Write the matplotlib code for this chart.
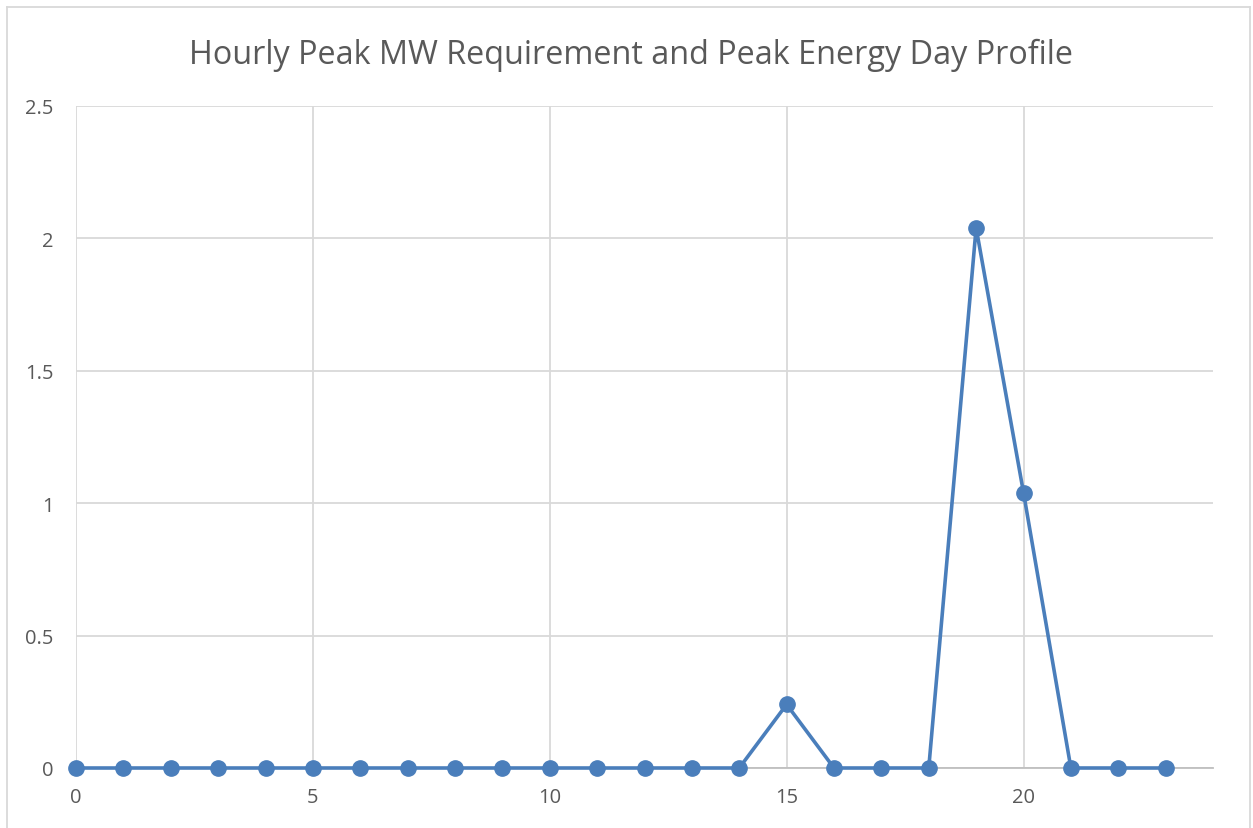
import matplotlib.pyplot as plt
from matplotlib.lines import Line2D

# Данные: часы и пиковая мощность (МВт)
hours = list(range(24))
peak_mw = [0, 0, 0, 0, 0, 0, 0, 0, 0, 0, 0, 0, 0, 0, 0,
           0.24, 0, 0, 0, 2.04, 1.04, 0, 0, 0]
x_ticks = [0, 5, 10, 15, 20]
y_ticks = [0, 0.5, 1, 1.5, 2, 2.5]
y_tick_labels = ["0", "0.5", "1", "1.5", "2", "2.5"]

plt.rcParams["font.family"] = ["Open Sans", "DejaVu Sans"]

W, H = 1253, 829
fig = plt.figure(figsize=(W / 100, H / 100), dpi=100)
ax = fig.add_axes([76 / W, 1 - 769 / H, (1213 - 76) / W, (769 - 107) / H])

ax.plot(hours, peak_mw, color="#4a7ebb", linewidth=2.6,
        marker="o", markersize=11, zorder=3, clip_on=False)

ax.set_xlim(0, 24)
ax.set_ylim(0, 2.5)
ax.set_xticks(x_ticks)
ax.set_yticks(y_ticks)
ax.set_yticklabels(y_tick_labels)
ax.grid(True, color="#d9d9d9", linewidth=1.3)
ax.set_axisbelow(True)
for s in ["top", "right", "left"]:
    ax.spines[s].set_visible(False)
ax.spines["bottom"].set_color("#bfbfbf")
ax.spines["bottom"].set_linewidth(1.3)
ax.tick_params(length=0, colors="#595959", labelsize=14.5)
ax.tick_params(axis="y", pad=16)
ax.tick_params(axis="x", pad=14)

fig.text(631 / W, 1 - 55 / H, "Hourly Peak MW Requirement and Peak Energy Day Profile",
         ha="center", va="center", fontsize=23.3, color="#595959")

# рамка области диаграммы
border = "#d9d9d9"
fig.add_artist(Line2D([7 / W, 7 / W], [0, 1 - 8 / H], color=border, lw=1.3))
fig.add_artist(Line2D([7 / W, 1250 / W], [1 - 8 / H, 1 - 8 / H], color=border, lw=1.3))
fig.add_artist(Line2D([1250 / W, 1250 / W], [0, 1 - 8 / H], color=border, lw=1.3))

fig.savefig("out.png", dpi=100)
